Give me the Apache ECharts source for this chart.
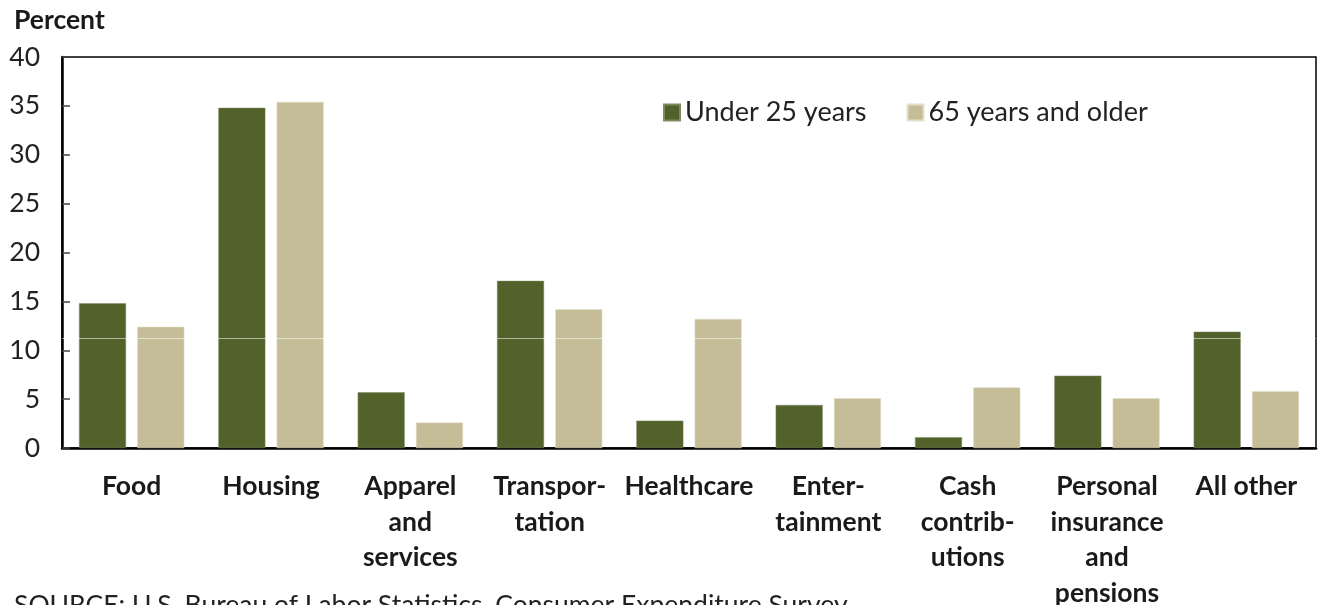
<!DOCTYPE html>
<html>
<head>
<meta charset="utf-8">
<script src="https://cdn.jsdelivr.net/npm/echarts@6/dist/echarts.min.js"></script>
<style>
  html, body { margin: 0; padding: 0; background: #fff; }
  #chart { width: 1318px; height: 605px; }
</style>
</head>
<body>
<div id="chart"></div>
<script>
  // spending shares by age group, percent
  const categories = [
    'Food', 'Housing', 'Apparel\nand\nservices', 'Transpor-\ntation', 'Healthcare',
    'Enter-\ntainment', 'Cash\ncontrib-\nutions', 'Personal\ninsurance\nand\npensions', 'All other'
  ];
  const under25 = [14.8, 34.8, 5.7, 17.1, 2.8, 4.4, 1.1, 7.4, 11.9];
  const over65 = [12.4, 35.4, 2.6, 14.2, 13.2, 5.1, 6.2, 5.1, 5.8];
  const seriesNames = ['Under 25 years', '65 years and older'];
  const yTicks = { min: 0, max: 40, interval: 5 };

  const font = 'Lato, "Open Sans", sans-serif';
  const chart = echarts.init(document.getElementById('chart'), null, { renderer: 'canvas' });

  chart.setOption({
    animation: false,
    textStyle: { fontFamily: font },
    grid: {
      left: 62, right: 2, top: 57, bottom: 157,
      containLabel: false,
      outerBoundsMode: 'none',
      show: true, borderColor: '#000', borderWidth: 1.5, backgroundColor: 'transparent'
    },
    legend: {
      left: 658, top: 94,
      itemWidth: 16, itemHeight: 16, itemGap: 40,
      icon: 'rect',
      textStyle: { fontSize: 27, color: '#222', fontFamily: font },
      data: seriesNames
    },
    xAxis: {
      type: 'category',
      data: categories,
      axisLine: { lineStyle: { color: '#000', width: 2.5 } },
      axisTick: { show: false },
      axisLabel: {
        interval: 0,
        margin: 21,
        fontSize: 26.5,
        fontWeight: 'bold',
        lineHeight: 35.5,
        color: '#1a1a1a',
        fontFamily: font
      }
    },
    yAxis: {
      type: 'value',
      min: yTicks.min, max: yTicks.max, interval: yTicks.interval,
      axisLine: { show: true, lineStyle: { color: '#000', width: 2.5 } },
      axisTick: { show: true, inside: true, length: 8, lineStyle: { color: '#444', width: 1.5 } },
      splitLine: { show: false },
      axisLabel: { fontSize: 26.5, color: '#222', margin: 22, fontFamily: font }
    },
    graphic: [
      {
        type: 'text', left: 14, top: 7,
        style: { text: 'Percent', fontSize: 26.5, fontWeight: 'bold', fill: '#1a1a1a', fontFamily: font }
      },
      {
        type: 'text', left: 14, top: 592,
        style: { text: 'SOURCE: U.S. Bureau of Labor Statistics, Consumer Expenditure Survey', fontSize: 26.5, fill: '#222', fontFamily: font }
      }
    ],
    series: [
      {
        name: seriesNames[0],
        type: 'bar',
        data: under25,
        barWidth: 47,
        barGap: '24%',
        itemStyle: { color: '#52622A', borderColor: '#7f8a62', borderWidth: 0.5 }
      },
      {
        name: seriesNames[1],
        type: 'bar',
        data: over65,
        barWidth: 47,
        itemStyle: { color: '#C5BD98', borderColor: '#e4dfc8', borderWidth: 0.5 },
        markLine: {
          silent: true,
          symbol: 'none',
          label: { show: false },
          lineStyle: { color: 'rgba(255,255,255,0.55)', width: 1, type: 'solid' },
          data: [{ yAxis: 11.25 }]
        }
      }
    ]
  });
</script>
</body>
</html>
